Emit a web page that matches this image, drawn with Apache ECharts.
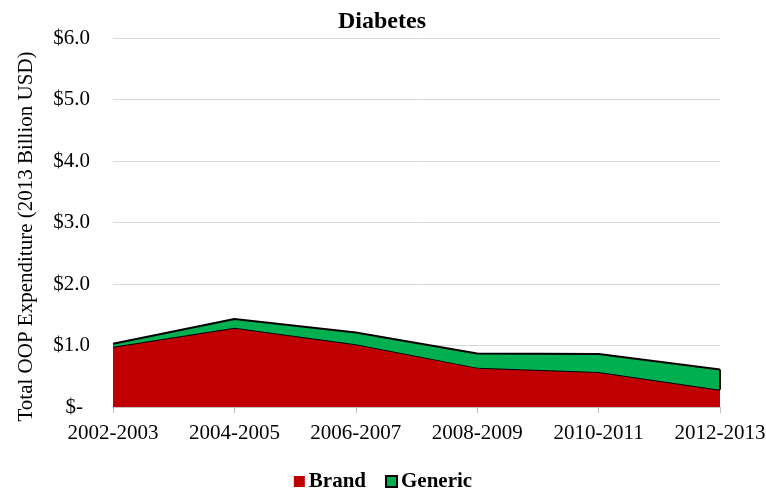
<!DOCTYPE html>
<html>
<head>
<meta charset="utf-8">
<script src="https://cdn.jsdelivr.net/npm/echarts@6/dist/echarts.min.js"></script>
<style>
  html, body { margin: 0; padding: 0; background: #fff; }
  #chart { width: 766px; height: 495px; }
</style>
</head>
<body>
<div id="chart"></div>
<script>
// Out-of-pocket spending on diabetes drugs, billions of 2013 USD
const periods = ['2002-2003', '2004-2005', '2006-2007', '2008-2009', '2010-2011', '2012-2013'];
const brand = [0.98, 1.29, 1.02, 0.64, 0.57, 0.28];
const generic = [0.05, 0.14, 0.19, 0.23, 0.29, 0.33];
const yTicks = ['$-', '$1.0', '$2.0', '$3.0', '$4.0', '$5.0', '$6.0'];

const serif = '"Liberation Serif", "Times New Roman", serif';
const chart = echarts.init(document.getElementById('chart'));

// vertical outline closing the generic band at the last period
const lastIdx = periods.length - 1;
const edgeData = [[lastIdx, brand[lastIdx], brand[lastIdx] + generic[lastIdx]]];

chart.setOption({
  animation: false,
  textStyle: { fontFamily: serif },
  title: {
    text: 'Diabetes',
    left: 333,
    top: 5,
    textStyle: { fontFamily: serif, fontSize: 24, fontWeight: 'bold', color: '#000' }
  },
  legend: {
    top: 466,
    left: 'center',
    itemWidth: 11,
    itemHeight: 11,
    itemGap: 19,
    icon: 'rect',
    data: ['Brand', 'Generic'],
    textStyle: { fontFamily: serif, fontSize: 21, fontWeight: 'bold', color: '#000', padding: [0, 0, 0, -1] }
  },
  grid: { left: 113, right: 46, top: 38, bottom: 88, outerBoundsMode: 'none' },
  xAxis: {
    type: 'category',
    data: periods,
    boundaryGap: false,
    axisLine: { lineStyle: { color: '#BFBFBF', width: 1 } },
    axisTick: { show: true, length: 6, lineStyle: { color: '#BFBFBF' } },
    axisLabel: { fontFamily: serif, fontSize: 21, color: '#000', margin: 16 }
  },
  yAxis: {
    type: 'value',
    min: 0,
    max: 6,
    interval: 1,
    name: 'Total OOP Expenditure (2013 Billion USD)',
    nameLocation: 'middle',
    nameGap: 76,
    nameTextStyle: { fontFamily: serif, fontSize: 21, color: '#000', padding: [0, 28, 0, 0] },
    axisLine: { show: false },
    axisTick: { show: false },
    splitLine: { lineStyle: { color: '#D9D9D9', width: 1 } },
    axisLabel: {
      fontFamily: serif, fontSize: 21, color: '#000', margin: 23,
      // accounting style: the zero dash sits inset from the right edge
      formatter: (v) => {
        const i = Math.round(v);
        return i === 0 ? '{z|' + yTicks[i] + '}' : yTicks[i];
      },
      rich: {
        z: { fontFamily: serif, fontSize: 21, color: '#000', padding: [0, 7, 0, 0] }
      }
    }
  },
  series: [
    {
      name: 'Brand',
      type: 'line',
      stack: 'oop',
      data: brand,
      symbol: 'none',
      itemStyle: { color: '#C00000' },
      lineStyle: { color: '#000', width: 2 },
      areaStyle: { color: '#C00000', opacity: 1 },
      z: 2
    },
    {
      name: 'Generic',
      type: 'line',
      stack: 'oop',
      data: generic,
      symbol: 'none',
      itemStyle: { color: '#00B050', borderColor: '#000', borderWidth: 1.5 },
      lineStyle: { color: '#000', width: 2 },
      areaStyle: { color: '#00B050', opacity: 1 },
      z: 3
    },
    {
      type: 'custom',
      data: edgeData,
      silent: true,
      z: 4,
      renderItem: (params, api) => {
        const p0 = api.coord([api.value(0), api.value(1)]);
        const p1 = api.coord([api.value(0), api.value(2)]);
        return {
          type: 'line',
          shape: { x1: p0[0], y1: p0[1], x2: p1[0], y2: p1[1] },
          style: { stroke: '#000', lineWidth: 2 }
        };
      }
    }
  ]
});
</script>
</body>
</html>
